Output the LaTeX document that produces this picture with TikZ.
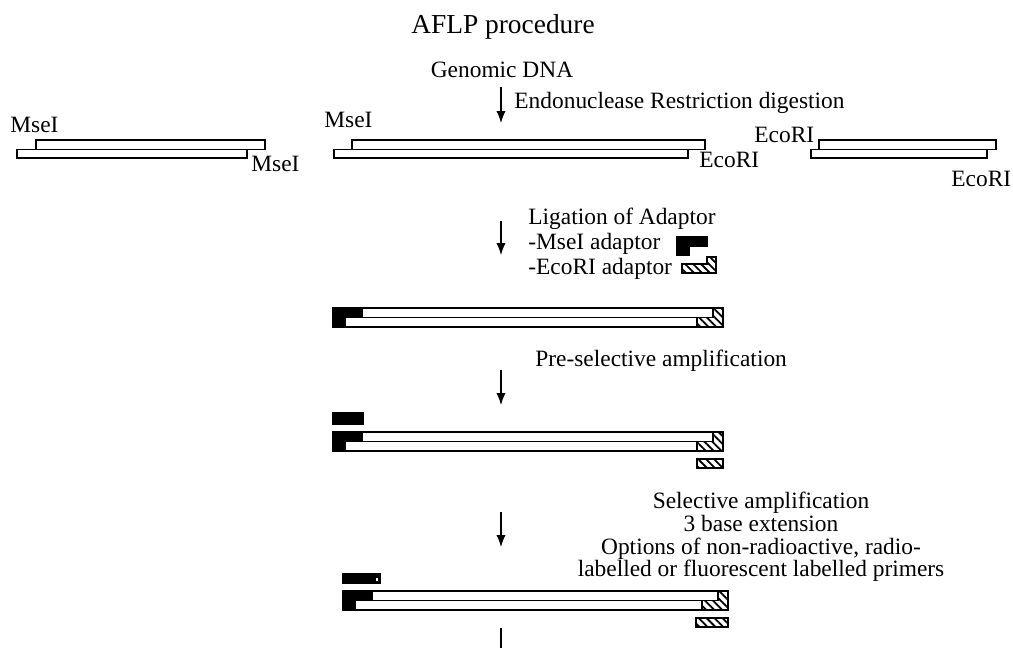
\documentclass[tikz,border=0pt]{standalone}
\usepackage{fontspec}
\setmainfont{Liberation Serif}
\usetikzlibrary{arrows.meta,patterns.meta}

\tikzset{
  strand/.style={draw,fill=white,line width=0.6pt},
  mseend/.style={draw,fill=black,line width=0.6pt},
  ecoend/.style={draw,line width=0.6pt,pattern={Lines[angle=-45,distance=2.8pt,line width=0.9pt]}},
  txt/.style={inner sep=0pt,text height=8pt,text depth=2.5pt,font=\fontsize{11.7}{13}\selectfont},
  stage arrow/.style={-{Latex[length=6pt,width=4.6pt]},line width=0.55pt},
}

\begin{document}
\begin{tikzpicture}[x=0.5pt,y=-0.5pt]
\useasboundingbox (0,0) rectangle (1013,648);

% titles and step labels
\node[txt,font=\fontsize{13.7}{15}\selectfont] (title) at (503,28) {AFLP procedure};
\node[txt] (genomic) at (502,72) {Genomic DNA};
\node[txt,anchor=west] (digest) at (514,103) {Endonuclease Restriction digestion};
\node[txt,anchor=west] (lig1) at (528,219) {Ligation of Adaptor};
\node[txt,anchor=west] (lig2) at (528,244) {-MseI adaptor};
\node[txt,anchor=west] (lig3) at (528,269) {-EcoRI adaptor};
\node[txt,anchor=west] (presel) at (535,361) {Pre-selective amplification};
\node[txt,text height=,text depth=,align=center,font=\fontsize{11.7}{11.4}\selectfont] (sel) at (761,537)
  {Selective amplification\\3 base extension\\Options of non-radioactive, radio-\\labelled or fluorescent labelled primers};

% restriction fragments
\draw[strand] (36,140) rectangle (265,149.5);
\draw[strand] (17,149.5) rectangle (247,158);
\draw[strand] (352,140) rectangle (705,149.5);
\draw[strand] (334,149.5) rectangle (688,158);
\draw[strand] (819,140) rectangle (996,149.5);
\draw[strand] (811,149.5) rectangle (987,158);
\node[txt,anchor=west] (mseA) at (10,127) {MseI};
\node[txt,anchor=west] (mseB) at (251,166) {MseI};
\node[txt,anchor=west] (mseC) at (324,122) {MseI};
\node[txt,anchor=west] (ecoA) at (699,162) {EcoRI};
\node[txt,anchor=west] (ecoB) at (754,137) {EcoRI};
\node[txt,anchor=west] (ecoC) at (951,181) {EcoRI};

% adaptor legend
\draw[mseend] (677,237) -- (707,237) -- (707,246) -- (689,246) -- (689,255) -- (677,255) -- cycle;
\draw[ecoend] (707,257) -- (716,257) -- (716,273) -- (682,273) -- (682,264) -- (707,264) -- cycle;

% ligated fragments
\foreach \cx/\cy/\w in {333/308/390, 333/432/390, 343/591/385} {
  \draw[strand] (\cx+29,\cy) rectangle (\cx+\w-10,\cy+9.5);
  \draw[strand] (\cx+12,\cy+9.5) rectangle (\cx+\w-26,\cy+19);
  \draw[mseend] (\cx,\cy) -- (\cx+29,\cy) -- (\cx+29,\cy+9.5) -- (\cx+12,\cy+9.5)
    -- (\cx+12,\cy+19) -- (\cx,\cy+19) -- cycle;
  \draw[ecoend] (\cx+\w-10,\cy) -- (\cx+\w,\cy) -- (\cx+\w,\cy+19) -- (\cx+\w-26,\cy+19)
    -- (\cx+\w-26,\cy+9.5) -- (\cx+\w-10,\cy+9.5) -- cycle;
}

% primers
\draw[mseend] (333,413) rectangle (363,424);
\draw[ecoend] (697,459) rectangle (723,468);
\draw[mseend] (343,574) rectangle (380,583);
\fill[white] (376,578) rectangle (378,581);
\draw[ecoend] (696,618) rectangle (728,627);

% arrows
\coordinate (a1s) at (501,87);  \coordinate (a1e) at (501,123);
\coordinate (a2s) at (501,221); \coordinate (a2e) at (501,255);
\coordinate (a3s) at (501,370); \coordinate (a3e) at (501,405);
\coordinate (a4s) at (501,512); \coordinate (a4e) at (501,547);
\coordinate (a5s) at (501,628); \coordinate (a5e) at (501,648);
\draw[stage arrow] (a1s) -- (a1e);
\draw[stage arrow] (a2s) -- (a2e);
\draw[stage arrow] (a3s) -- (a3e);
\draw[stage arrow] (a4s) -- (a4e);
\draw[line width=0.55pt] (a5s) -- (a5e);
\end{tikzpicture}
\end{document}
